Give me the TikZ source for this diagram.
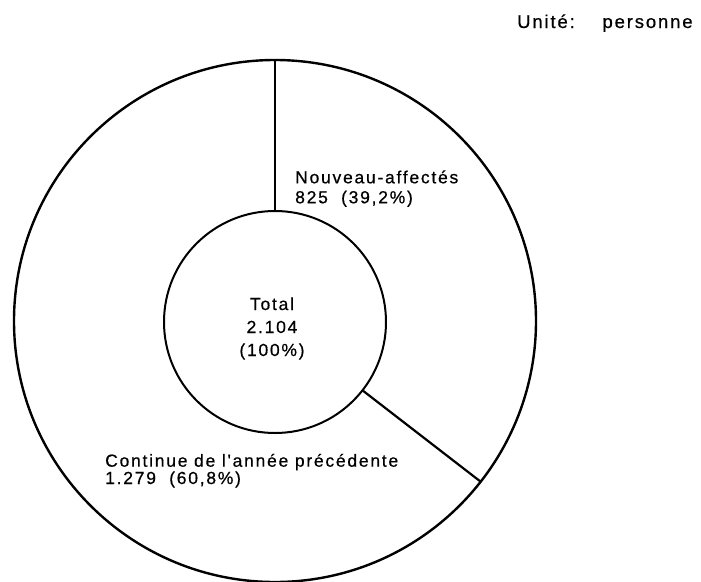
\documentclass[tikz,border=0pt]{standalone}
\usepackage{fontspec}
\newfontfamily\labelfont[LetterSpace=10,FakeBold=0.6]{Liberation Sans}
\tikzset{
    %Define style for the two rings
    ring/.style={
           circle,
           draw=black,
           inner sep=0pt,
           outer sep=0pt},
 %
    lbl/.style={
           font=\labelfont\fontsize{17.5}{20}\selectfont,
           align=left,
           inner sep=0pt},
%
    % Define divider style
    divider/.style={
           -,
           line width=2.2pt}
}
\begin{document}
\begin{tikzpicture}[x=1pt,y=-1pt]
  \useasboundingbox (0,0) rectangle (701,581);
  \node[ring, line width=2.4pt, minimum size=522pt] (outer) at (275,321) {};
  \node[ring, line width=2pt, minimum size=222pt] (inner) at (275,322) {};
  \node[lbl, align=center, font=\labelfont\fontsize{17.5}{23}\selectfont, anchor=base] (total) at (272,356) {Total\\2.104\\(100\%)};
  \node[lbl, anchor=base west] (new) at (295,203.3) {Nouveau-affectés\\825\ \ (39,2\%)};
  \node[lbl, font=\labelfont\fontsize{17.5}{16}\selectfont, anchor=base west] (cont) at (105,484) {Continue de l'année précédente\\1.279\ \ (60,8\%)};
  \node[lbl, font=\labelfont\fontsize{18.5}{20}\selectfont, anchor=base west] (unit) at (517,28) {Unité:\hspace{1.5em}personne};
  \path[divider]
    (inner.north) edge (outer.north)
    (inner.-38) edge (outer.-38);
\end{tikzpicture}
\end{document}
